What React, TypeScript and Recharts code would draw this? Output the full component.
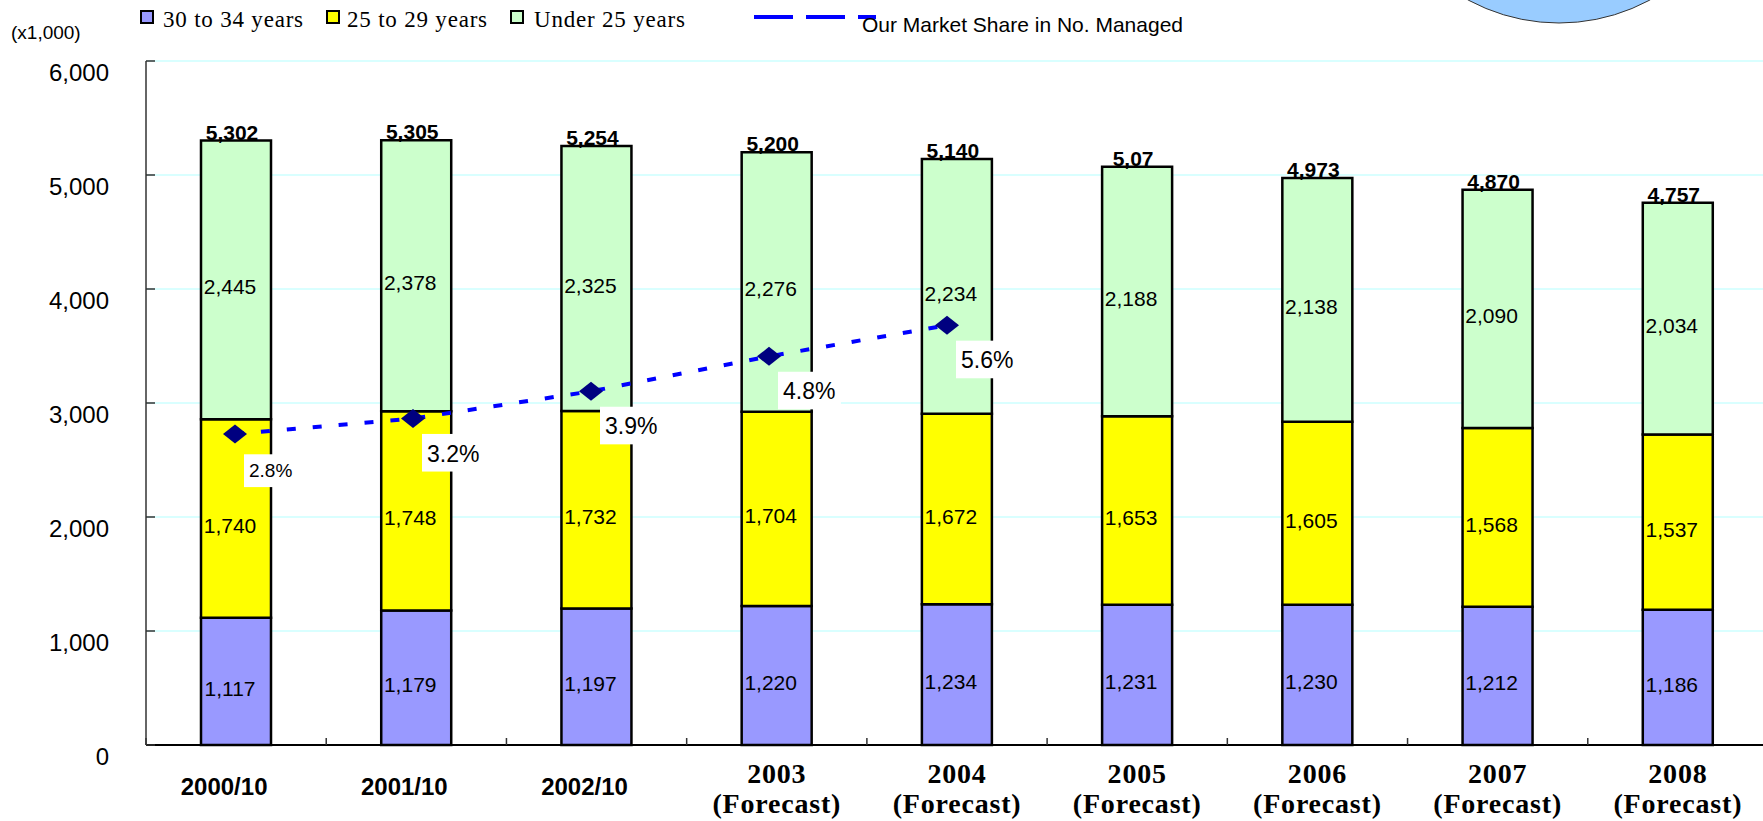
import React from "react";
import { ComposedChart, Bar, Line, XAxis, YAxis, CartesianGrid, LabelList } from "recharts";

const categories = ["2000/10", "2001/10", "2002/10", "2003", "2004", "2005", "2006", "2007", "2008"];
const isForecast = [false, false, false, true, true, true, true, true, true];
const age30to34 = [1117, 1179, 1197, 1220, 1234, 1231, 1230, 1212, 1186];
const age25to29 = [1740, 1748, 1732, 1704, 1672, 1653, 1605, 1568, 1537];
const under25 = [2445, 2378, 2325, 2276, 2234, 2188, 2138, 2090, 2034];
const totalLabels = ["5,302", "5,305", "5,254", "5,200", "5,140", "5,07", "4,973", "4,870", "4,757"];
const marketShare = [2.8, 3.2, 3.9, 4.8, 5.6, null, null, null, null];
const yTicks = [0, 1000, 2000, 3000, 4000, 5000, 6000];

const data = categories.map((year, i) => ({
  year,
  forecast: isForecast[i],
  a: age30to34[i],
  b: age25to29[i],
  c: under25[i],
  total: totalLabels[i],
  share: marketShare[i],
}));

const W = 1768;
const H = 821;
const Y_W = 146;
const BAND = (W - Y_W) / categories.length;

const SANS = "'Liberation Sans', Arial, sans-serif";
const SERIF = "'Liberation Serif', 'Times New Roman', serif";

const fmt = (v: number) => v.toLocaleString("en-US");

function SegLabel(props: any) {
  const { x, y, width, height, value } = props;
  if (value == null) return null;
  return (
    <text
      x={x + width / 2 - 6}
      y={y + height / 2 + 7}
      textAnchor="middle"
      dominantBaseline="central"
      fontFamily={SANS}
      fontSize={21}
      fill="#000"
    >
      {fmt(value)}
    </text>
  );
}

function TotalLabel(props: any) {
  const { x, y, width, value } = props;
  return (
    <text x={x + width / 2 - 4} y={y - 1} textAnchor="middle" fontFamily={SANS} fontSize={21} fontWeight="bold" fill="#000">
      {value}
    </text>
  );
}

function Diamond(props: any) {
  const { cx, cy, value } = props;
  if (value == null || cy == null) return <g />;
  return <polygon points={`${cx - 12},${cy} ${cx},${cy - 9.5} ${cx + 12},${cy} ${cx},${cy + 9.5}`} fill="#000080" />;
}

function ShareLabel(props: any) {
  const { x, y, value, index } = props;
  if (value == null || x == null || y == null) return null;
  const fs = index === 0 ? 19 : 23;
  const tx = x + 14;
  const ty = y + 43;
  return (
    <g>
      <rect x={tx - 5} y={ty - fs * 1.2} width={fs * 2.3 + 10} height={fs * 1.2 + 10} fill="#fff" />
      <text x={tx} y={ty} fontFamily={SANS} fontSize={fs} fill="#000">
        {`${value}%`}
      </text>
    </g>
  );
}

function YTick({ x, y, payload }: any) {
  return (
    <g>
      <line x1={x} x2={x + 9} y1={y} y2={y} stroke="#333" strokeWidth={1.5} />
      <text x={x - 37} y={y + 20} textAnchor="end" fontFamily={SANS} fontSize={24} fill="#000">
        {fmt(payload.value)}
      </text>
    </g>
  );
}

function XTick({ x, y, payload }: any) {
  const i = categories.indexOf(payload.value);
  const half = BAND / 2;
  const last = i === categories.length - 1;
  return (
    <g>
      <line x1={x - half} x2={x - half} y1={y} y2={y - 7} stroke="#333" strokeWidth={1.5} />
      {last && <line x1={x + half} x2={x + half} y1={y} y2={y - 7} stroke="#333" strokeWidth={1.5} />}
      {isForecast[i] ? (
        <g fontFamily={SERIF} fontWeight="bold" fontSize={28} letterSpacing={0.8} textAnchor="middle" fill="#000">
          <text x={x} y={y + 38}>{payload.value}</text>
          <text x={x} y={y + 68}>(Forecast)</text>
        </g>
      ) : (
        <text x={x - 12} y={y + 50} textAnchor="middle" fontFamily={SANS} fontWeight="bold" fontSize={24} fill="#000">
          {payload.value}
        </text>
      )}
    </g>
  );
}

function LegendOverlay() {
  const items = [
    { label: "30 to 34 years", color: "#9999ff", sq: 141, tx: 163 },
    { label: "25 to 29 years", color: "#ffff00", sq: 327, tx: 347 },
    { label: "Under 25 years", color: "#ccffcc", sq: 511, tx: 534 },
  ];
  return (
    <svg width={1763} height={60} style={{ position: "absolute", left: 0, top: 0, pointerEvents: "none" }}>
      <circle cx={1559} cy={-168} r={191} fill="#99ccff" stroke="#333" strokeWidth={1} />
      <text x={11} y={39} fontFamily={SANS} fontSize={19} fill="#000">
        (x1,000)
      </text>
      {items.map((it) => (
        <g key={it.label}>
          <rect x={it.sq} y={11} width={12} height={12} fill={it.color} stroke="#000" strokeWidth={2} />
          <text x={it.tx} y={27} fontFamily={SERIF} fontSize={23} letterSpacing={0.8} fill="#000">
            {it.label}
          </text>
        </g>
      ))}
      <line x1={754} x2={876} y1={17} y2={17} stroke="#0000ff" strokeWidth={4} strokeDasharray="39 13" />
      <text x={862} y={32} fontFamily={SANS} fontSize={21} fill="#000">
        Our Market Share in No. Managed
      </text>
    </svg>
  );
}

export default function App() {
  return (
    <div style={{ position: "absolute", left: 0, top: 0, width: 1763, height: H, overflow: "hidden", background: "#fff" }}>
      <ComposedChart width={W} height={H} data={data} margin={{ top: 61, right: 0, bottom: 6, left: 0 }} barCategoryGap={0}>
        <CartesianGrid xAxisId="bar" yAxisId="left" vertical={false} stroke="#ccffff" strokeWidth={1.5} />
        <XAxis
          xAxisId="bar"
          dataKey="year"
          interval={0}
          height={70}
          tickSize={0}
          tickMargin={0}
          tickLine={false}
          axisLine={{ stroke: "#000", strokeWidth: 2 }}
          tick={<XTick />}
        />
        <XAxis xAxisId="line" dataKey="year" hide padding={{ left: 0, right: 20 }} />
        <YAxis
          yAxisId="left"
          domain={[0, 6000]}
          ticks={yTicks}
          width={Y_W}
          tickSize={0}
          tickMargin={0}
          tickLine={false}
          axisLine={{ stroke: "#333", strokeWidth: 1.5 }}
          tick={<YTick />}
        />
        <YAxis yAxisId="share" orientation="right" hide domain={[-5.2, 12.4]} />
        <Bar xAxisId="bar" yAxisId="left" dataKey="a" stackId="s" fill="#9999ff" stroke="#000" strokeWidth={2.5} barSize={70} isAnimationActive={false}>
          <LabelList dataKey="a" content={<SegLabel />} />
        </Bar>
        <Bar xAxisId="bar" yAxisId="left" dataKey="b" stackId="s" fill="#ffff00" stroke="#000" strokeWidth={2.5} barSize={70} isAnimationActive={false}>
          <LabelList dataKey="b" content={<SegLabel />} />
        </Bar>
        <Bar xAxisId="bar" yAxisId="left" dataKey="c" stackId="s" fill="#ccffcc" stroke="#000" strokeWidth={2.5} barSize={70} isAnimationActive={false}>
          <LabelList dataKey="c" content={<SegLabel />} />
          <LabelList dataKey="total" content={<TotalLabel />} />
        </Bar>
        <Line
          xAxisId="line"
          yAxisId="share"
          dataKey="share"
          stroke="#0000ff"
          strokeWidth={4}
          strokeDasharray="9 17"
          dot={<Diamond />}
          activeDot={false}
          label={<ShareLabel />}
          connectNulls={false}
          isAnimationActive={false}
        />
      </ComposedChart>
      <LegendOverlay />
    </div>
  );
}
